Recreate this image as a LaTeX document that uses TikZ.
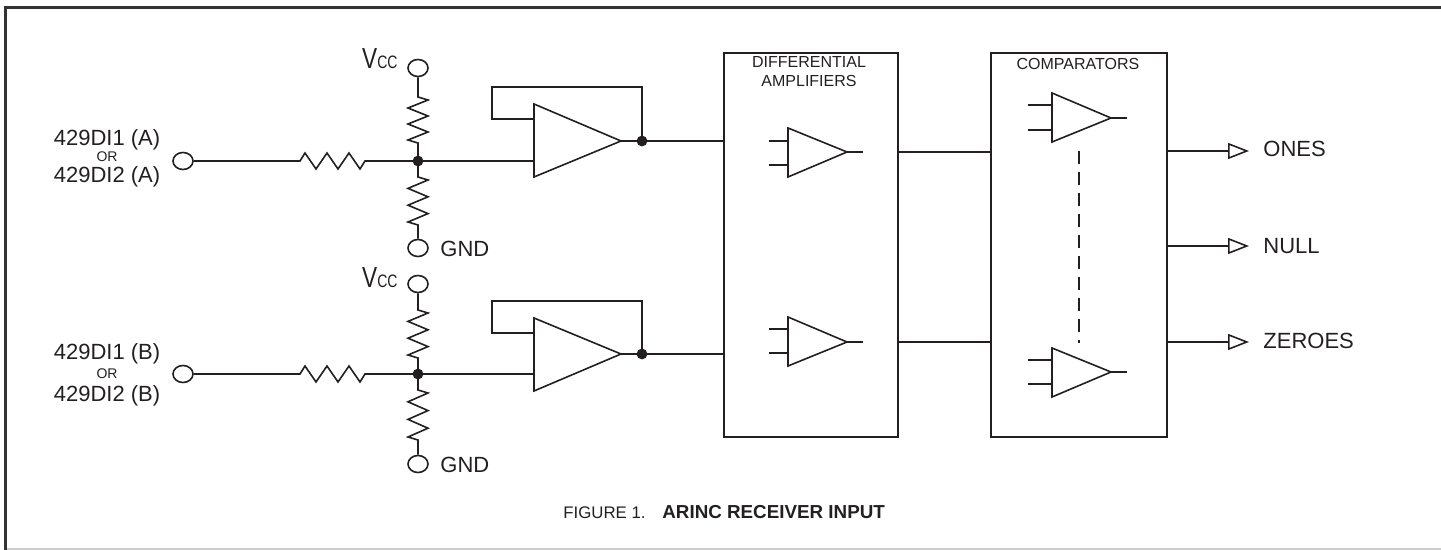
\documentclass[tikz,border=0pt]{standalone}
\usepackage{fontspec}
\setmainfont{Liberation Sans}
\newfontfamily\narrowf[FakeStretch=0.78]{Liberation Sans}
\usetikzlibrary{shapes.geometric,arrows.meta}
\definecolor{ink}{HTML}{231F20}
\definecolor{framedark}{HTML}{333333}
\definecolor{framelight}{HTML}{CCCCCC}
\tikzset{
  wire/.style={line width=0.8pt, draw=ink},
  term/.style={ellipse, draw=ink, line width=0.8pt, minimum width=10pt, minimum height=8.5pt, inner sep=0pt, fill=white},
  jdot/.style={circle, fill=ink, minimum size=5.4pt, inner sep=0pt},
  blockbox/.style={draw=ink, line width=0.8pt, rectangle, minimum width=87pt, minimum height=192pt, inner sep=0pt},
  amp/.style={line width=0.8pt, draw=ink, line join=miter},
  lbl/.style={inner sep=0pt, text=ink, font=\fontsize{11}{13}\selectfont},
  smalllbl/.style={inner sep=0pt, text=ink, font=\fontsize{8}{9.5}\selectfont},
  orlbl/.style={inner sep=0pt, text=ink, font=\fontsize{7}{8}\selectfont},
  outarrow/.style={wire, -{Triangle[open, length=10.5pt, width=8pt, line width=0.8pt]}}
}
\newcommand{\vcclabel}{{\narrowf\fontsize{14.5}{15}\selectfont V\fontsize{9}{9}\selectfont CC}}
\begin{document}
\begin{tikzpicture}[x=0.5pt,y=-0.5pt]
\useasboundingbox (0,0) rectangle (1441,550);
% frame
\draw[line width=1.5pt, draw=framedark] (5.5,550) -- (5.5,7.5) -- (1441,7.5);
\draw[line width=1pt, draw=framelight] (7,549) -- (1441,549);

% ===== channel A =====
\node[term] (inA) at (183,161) {};
\node[term] (vccA) at (418,68) {};
\node[term] (gndA) at (418,248) {};
\node[jdot] (jA) at (418,161) {};
\node[jdot] (oA) at (642,141) {};
\coordinate (bAin) at (534,161);
\coordinate (bAfb) at (534,119);
\coordinate (bAout) at (621,141);
\draw[amp] (534,104) -- (bAout) -- (534,177) -- cycle;
\draw[wire] (inA.east) -- (300,161) -- ++(5,-8) -- ++(11,16) -- ++(11,-16) -- ++(11,16) -- ++(11,-16) -- ++(11,16) -- ++(5,-8) -- (jA.center) -- (bAin);
\draw[wire] (vccA.south) -- (418,97) -- ++(10,3) -- ++(-20,8) -- ++(20,8) -- ++(-20,8) -- ++(20,8) -- ++(-20,8) -- ++(10,3) -- (jA.center);
\draw[wire] (jA.center) -- (418,177) -- ++(10,3) -- ++(-20,8.4) -- ++(20,8.4) -- ++(-20,8.4) -- ++(20,8.4) -- ++(-20,8.4) -- ++(10,3) -- (gndA.north);
\draw[wire] (bAfb) -- (492,119) -- (492,87) -- (642,87) -- (oA.center);
\node[lbl, anchor=base east] (vccAl) at (398,69) {\vcclabel};
\node[lbl, anchor=base west] (gndAl) at (440,257) {GND};
\node[lbl, anchor=base] (inA1) at (107,146) {429DI1 (A)};
\node[orlbl, anchor=base] (inA2) at (107,162) {OR};
\node[lbl, anchor=base] (inA3) at (107,182.5) {429DI2 (A)};

% ===== channel B =====
\node[term] (inB) at (183,374) {};
\node[term] (vccB) at (418,284) {};
\node[term] (gndB) at (418,464) {};
\node[jdot] (jB) at (418,374) {};
\node[jdot] (oB) at (642,354) {};
\coordinate (bBin) at (534,374);
\coordinate (bBfb) at (534,333);
\coordinate (bBout) at (621,354);
\draw[amp] (534,318) -- (bBout) -- (534,391) -- cycle;
\draw[wire] (inB.east) -- (300,374) -- ++(5,-8) -- ++(11,16) -- ++(11,-16) -- ++(11,16) -- ++(11,-16) -- ++(11,16) -- ++(5,-8) -- (jB.center) -- (bBin);
\draw[wire] (vccB.south) -- (418,310) -- ++(10,3) -- ++(-20,8.4) -- ++(20,8.4) -- ++(-20,8.4) -- ++(20,8.4) -- ++(-20,8.4) -- ++(10,3) -- (jB.center);
\draw[wire] (jB.center) -- (418,390) -- ++(10,3) -- ++(-20,8.8) -- ++(20,8.8) -- ++(-20,8.8) -- ++(20,8.8) -- ++(-20,8.8) -- ++(10,3) -- (gndB.north);
\draw[wire] (bBfb) -- (492,333) -- (492,301) -- (642,301) -- (oB.center);
\node[lbl, anchor=base east] (vccBl) at (398,288) {\vcclabel};
\node[lbl, anchor=base west] (gndBl) at (440,473) {GND};
\node[lbl, anchor=base] (inB1) at (107,360) {429DI1 (B)};
\node[orlbl, anchor=base] (inB2) at (107,379) {OR};
\node[lbl, anchor=base] (inB3) at (107,402) {429DI2 (B)};

% ===== differential amplifiers block =====
\node[blockbox] (diff) at (811,245) {};
\node[smalllbl, anchor=base] (diffl1) at (809,67.5) {DIFFERENTIAL};
\node[smalllbl, anchor=base] (diffl2) at (809,86.5) {AMPLIFIERS};
\draw[wire] (bAout) -- (oA.center) -- (diff.west |- oA);
\draw[wire] (bBout) -- (oB.center) -- (diff.west |- oB);
% amp 1
\draw[amp] (788,128) -- (847,152) -- (788,177) -- cycle;
\draw[wire] (769,141) -- (788,141) (769,165) -- (788,165) (847,152) -- (863,152);
% amp 2
\draw[amp] (788,317) -- (847,342) -- (788,366) -- cycle;
\draw[wire] (769,329) -- (788,329) (769,353) -- (788,353) (847,342) -- (863,342);

% ===== comparators block =====
\node[blockbox, minimum width=88pt] (comp) at (1079,245) {};
\node[smalllbl, anchor=base] (compl) at (1078,69.3) {COMPARATORS};
\coordinate (d1) at (898,152);
\coordinate (d2) at (898,342);
\draw[wire] (diff.east |- d1) -- (comp.west |- d1);
\draw[wire] (diff.east |- d2) -- (comp.west |- d2);
% comparator 1
\draw[amp] (1052,93) -- (1111,118) -- (1052,142) -- cycle;
\draw[wire] (1028,105) -- (1052,105) (1028,130) -- (1052,130) (1111,118) -- (1127,118);
% comparator 2
\draw[amp] (1052,348) -- (1111,372) -- (1052,397) -- cycle;
\draw[wire] (1028,360) -- (1052,360) (1028,384) -- (1052,384) (1111,372) -- (1127,372);
\draw[wire, dash pattern=on 6.5pt off 4pt] (1079,151) -- (1079,343);

% ===== outputs =====
\coordinate (t1) at (1249,151);
\coordinate (t2) at (1249,246);
\coordinate (t3) at (1249,342);
\draw[outarrow] (comp.east |- t1) -- (t1);
\draw[outarrow] (comp.east |- t2) -- (t2);
\draw[outarrow] (comp.east |- t3) -- (t3);
\node[lbl, anchor=base west] (ones) at (1263,156.7) {ONES};
\node[lbl, anchor=base west] (null) at (1263,254) {NULL};
\node[lbl, anchor=base west] (zeroes) at (1263,349) {ZEROES};

% ===== caption =====
\node[inner sep=0pt, text=ink, anchor=base west, font=\fontsize{8.4}{10}\selectfont] (cap1) at (563,519) {FIGURE 1.};
\node[inner sep=0pt, text=ink, anchor=base west, font=\fontsize{9.4}{11}\selectfont\bfseries] (cap2) at (662,519) {ARINC RECEIVER INPUT};
\end{tikzpicture}
\end{document}
